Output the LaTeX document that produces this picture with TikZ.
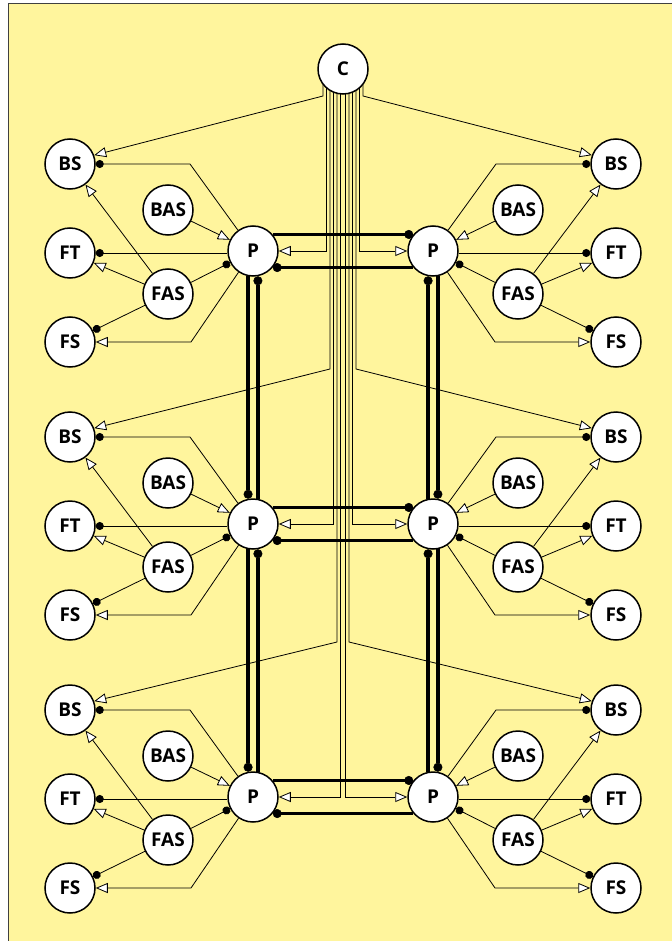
\documentclass[tikz,border=0pt]{standalone}
\usepackage{fontspec}
\setsansfont{Open Sans}
\usetikzlibrary{arrows.meta}
\usetikzlibrary{backgrounds}
\usetikzlibrary{calc}

\definecolor{panel}{RGB}{255,245,157}
\tikzset{
  cell/.style={circle,draw,fill=white,line width=1.5pt,minimum size=50pt,inner sep=0pt,font=\sffamily\bfseries\fontsize{19}{19}\selectfont},
  link/.style={line width=0.8pt},
  excite/.style={link,-{Triangle[fill=white,length=12pt,width=10pt]}},
  inhib/.style={link,-{Circle[length=8pt]}},
  trunk/.style={line width=3.5pt,-{Circle[length=9pt,line width=0.5pt]}}
}

\begin{document}
\begin{tikzpicture}[x=1pt,y=-1pt]
\useasboundingbox (0,0) rectangle (671,941);
\begin{scope}[on background layer]
\fill[white] (0,0) rectangle (671,941);
\draw[fill=panel,draw=black!75,line width=1pt] (8,4) rectangle (690,960);
\end{scope}

\node[cell] (C) at (343,69) {C};
\foreach \r in {0,1,2}{
  \pgfmathtruncatemacro\Y{251+273*\r}
  \foreach \s/\n in {-1/l,1/r}{
    \node[cell] (BS\n\r) at ({343+\s*273},{\Y-87}) {BS};
    \node[cell] (BAS\n\r) at ({343+\s*175},{\Y-41}) {BAS};
    \node[cell] (FT\n\r) at ({343+\s*273},{\Y+2}) {FT};
    \node[cell] (FAS\n\r) at ({343+\s*175},{\Y+43}) {FAS};
    \node[cell] (FS\n\r) at ({343+\s*273},{\Y+91}) {FS};
    \node[cell] (P\n\r) at ({343+\s*90},\Y) {P};
  }
}

\foreach \r in {0,1,2}{
  \pgfmathtruncatemacro\Y{251+273*\r}
  \pgfmathsetmacro\ob{20-7*\r}
  \pgfmathsetmacro\op{16.5-7*\r}
  \foreach \s/\n/\ab/\ae/\ao in {-1/l/20/0/180,1/r/160/180/0}{
    \begin{scope}[on background layer]
    \draw[excite] (C.center) ++({\s*\ob},0) -- ({343+\s*\ob},{\Y-155}) -- (BS\n\r.\ab);
    \draw[excite] (C.center) ++({\s*\op},0) -- ({343+\s*\op},\Y) -- (P\n\r.\ae);
    \end{scope}
    \draw[inhib] (P\n\r) -- ({343+\s*153},{\Y-87}) -- (BS\n\r.\ae);
    \draw[excite] (FAS\n\r) -- (BS\n\r);
    \draw[excite] (BAS\n\r) -- (P\n\r);
    \draw[inhib] (P\n\r.\ao |- FT\n\r.\ae) -- (FT\n\r.\ae);
    \draw[excite] (FAS\n\r) -- (FT\n\r);
    \draw[inhib] (FAS\n\r) -- (P\n\r);
    \draw[inhib] (FAS\n\r) -- (FS\n\r);
    \draw[excite] (P\n\r) -- ({343+\s*152},{\Y+91}) -- (FS\n\r.\ae);
  }
  \draw[trunk] (Pl\r.40) -- (Pr\r.140);
  \draw[trunk] (Pr\r.-140) -- (Pl\r.-40);
}

\foreach \r/\q in {0/1,1/2}{
  \draw[trunk] (Pl\r.-101) -- (Pl\q.101);
  \draw[trunk] (Pl\q.79) -- (Pl\r.-79);
  \draw[trunk] (Pr\q.101) -- (Pr\r.-101);
  \draw[trunk] (Pr\r.-79) -- (Pr\q.79);
}
\end{tikzpicture}
\end{document}
